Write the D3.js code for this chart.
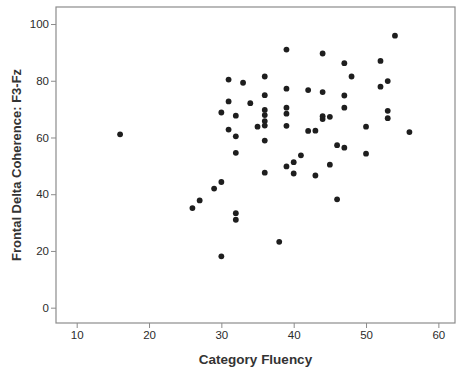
<!DOCTYPE html>
<html>
<head>
<meta charset="utf-8">
<script src="https://cdn.jsdelivr.net/npm/d3@7"></script>
<style>
  body { margin: 0; background: #fff; }
  svg text { font-family: "Liberation Sans", Arial, sans-serif; fill: #333; }
</style>
</head>
<body>
<svg id="chart" width="457" height="370"></svg>
<script>
// Category Fluency (x) vs Frontal Delta Coherence F3-Fz (y)
const fluency = [16, 39, 44, 47, 48, 31, 33, 36, 39, 42, 44, 47, 36, 31, 34, 47, 39, 39, 36, 36, 36, 36,
  30, 32, 44, 44, 45, 50, 35, 39, 31, 32, 42, 43, 36, 46, 47, 32, 50, 41, 40, 39, 45,
  54, 52, 53, 52, 53, 53, 56, 36, 40, 43, 30, 29, 27, 26, 46, 32, 32, 38, 30];
const coherence = [61.1, 91.0, 89.6, 86.2, 81.5, 80.4, 79.3, 81.5, 77.2, 76.7, 76.0, 74.8, 74.9, 72.7, 72.1, 70.5, 70.5, 68.4, 69.7, 67.9, 65.8, 64.2,
  68.8, 67.7, 67.5, 66.5, 67.3, 63.8, 63.8, 64.1, 62.8, 60.4, 62.3, 62.4, 58.9, 57.3, 56.4, 54.6, 54.3, 53.7, 51.3, 49.8, 50.4,
  95.9, 87.0, 79.9, 77.9, 69.4, 66.8, 61.9, 47.6, 47.3, 46.6, 44.3, 42.0, 37.8, 35.1, 38.2, 33.3, 31.0, 23.2, 18.1];
const xTicks = [10, 20, 30, 40, 50, 60];
const yTicks = [0, 20, 40, 60, 80, 100];

const svg = d3.select('#chart');
const margin = {top: 7, right: 2, bottom: 47, left: 56};
const width = 457 - margin.left - margin.right;
const height = 370 - margin.top - margin.bottom;

const x = d3.scaleLinear().domain([7.14, 62.3]).range([0, width]);
const y = d3.scaleLinear().domain([-5.4, 106]).range([height, 0]);

const g = svg.append('g').attr('transform', `translate(${margin.left},${margin.top})`);

// frame
g.append('rect')
  .attr('x', 0).attr('y', 0)
  .attr('width', width).attr('height', height)
  .attr('fill', 'none').attr('stroke', '#8c8c8c').attr('stroke-width', 1.2);

const xAxis = g.append('g')
  .attr('transform', `translate(0,${height})`)
  .call(d3.axisBottom(x).tickValues(xTicks).tickSize(5).tickPadding(3));
const yAxis = g.append('g')
  .call(d3.axisLeft(y).tickValues(yTicks).tickSize(5).tickPadding(2));

[xAxis, yAxis].forEach(a => {
  a.select('.domain').remove();
  a.selectAll('line').attr('stroke', '#8c8c8c');
  a.selectAll('text').style('font-size', '11.5px').style('fill', '#2b2b2b');
});

// points
g.selectAll('.dot')
  .data(fluency.map((f, i) => ({f, c: coherence[i]})))
  .join('circle').attr('class', 'dot')
  .attr('cx', d => x(d.f))
  .attr('cy', d => y(d.c))
  .attr('r', 2.9)
  .attr('fill', '#1e1e1e');

// axis titles
svg.append('text')
  .attr('x', margin.left + width / 2)
  .attr('y', 364)
  .attr('text-anchor', 'middle')
  .style('font-size', '13.5px').style('font-weight', 'bold')
  .text('Category Fluency');

svg.append('text')
  .attr('transform', `translate(21,${margin.top + height / 2}) rotate(-90)`)
  .attr('text-anchor', 'middle')
  .style('font-size', '13px').style('font-weight', 'bold')
  .text('Frontal Delta Coherence: F3-Fz');
</script>
</body>
</html>
